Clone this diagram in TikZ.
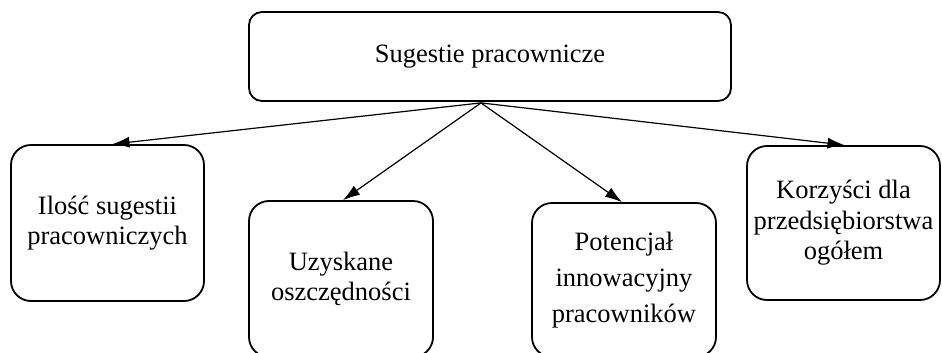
\documentclass[tikz,border=0pt]{standalone}
\usepackage{fontspec}
\setmainfont{Liberation Serif}
\usetikzlibrary{arrows.meta,calc}
\begin{document}
\begin{tikzpicture}[x=1pt,y=-1pt,
  box/.style={draw=black, line width=1.8pt, rounded corners=#1, align=center,
    font=\fontsize{26.5}{30.5}\selectfont, inner sep=0pt},
  box/.default=20pt,
  arr/.style={draw=black, line width=1.2pt, -{Latex[length=17pt,width=11pt]}}]
\clip (0,0) rectangle (942,353);
\fill[white] (0,0) rectangle (942,353);
\node[box=13pt, minimum width=482pt, minimum height=89pt] (top) at (490,56.5) {Sugestie pracownicze};
\node[box, minimum width=193pt, minimum height=156pt] (b1) at (107.5,223) {Ilość sugestii\\pracowniczych};
\node[box, minimum width=184pt, minimum height=156pt] (b2) at (341,279) {Uzyskane\\oszczędności};
\node[box, minimum width=184pt, minimum height=154pt, font=\fontsize{26.5}{36}\selectfont] (b3) at (624,280) {Potencjał\\innowacyjny\\pracowników};
\node[box, minimum width=193pt, minimum height=154pt] (b4) at (843.5,223) {Korzyści dla\\przedsiębiorstwa\\ogółem};
\coordinate (apex) at ($(top.south)+(-9,1)$);
\draw[arr] (apex) -- ([xshift=5pt]b1.north);
\draw[arr] (apex) -- ([xshift=2pt]b2.north);
\draw[arr] (apex) -- ([xshift=-2pt]b3.north);
\draw[arr] (apex) -- ([xshift=1pt]b4.north);
\end{tikzpicture}
\end{document}
